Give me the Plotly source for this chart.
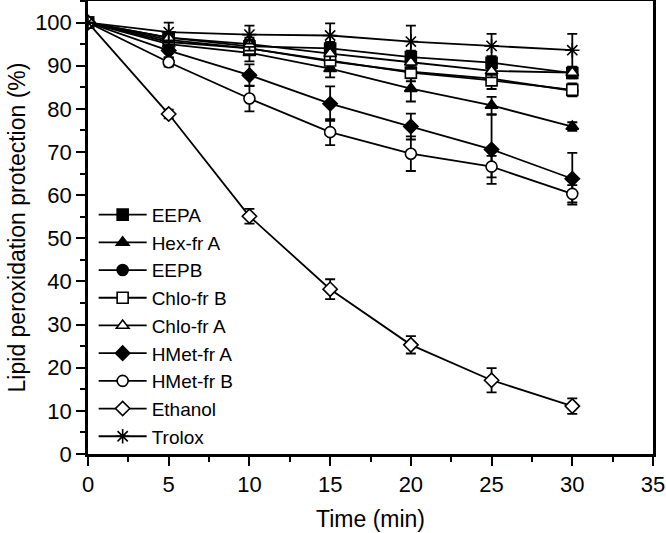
import plotly.graph_objects as go

time = [0, 5, 10, 15, 20, 25, 30]

names = ["EEPA", "Hex-fr A", "EEPB", "Chlo-fr B", "Chlo-fr A", "HMet-fr A", "HMet-fr B", "Ethanol", "Trolox"]

eepa = [100, 96.5, 94.5, 94.0, 92.0, 90.7, 88.3]
eepa_err = [0, 1.0, 1.5, 1.5, 1.5, 1.5, 1.2]
hex_a = [100, 95.0, 93.0, 89.3, 84.7, 80.8, 75.9]
hex_a_err = [0, 1.0, 2.0, 2.0, 3.0, 2.0, 1.0]
eepb = [100, 95.5, 94.0, 91.0, 88.6, 87.0, 84.2]
eepb_err = [0, 1.0, 1.5, 1.5, 1.5, 1.5, 1.2]
chlo_b = [100, 96.0, 94.0, 91.2, 88.4, 86.6, 84.4]
chlo_b_err = [0, 1.0, 1.5, 2.0, 2.0, 2.0, 1.5]
chlo_a = [100, 96.5, 95.0, 92.8, 90.8, 88.8, 88.4]
chlo_a_err = [0, 1.0, 1.5, 1.5, 1.5, 1.5, 1.2]
hmet_a = [100, 93.5, 87.8, 81.2, 75.9, 70.6, 63.8]
hmet_a_err = [0, 1.5, 2.5, 4.0, 3.0, 8.0, 6.0]
hmet_b = [100, 90.8, 82.4, 74.6, 69.6, 66.6, 60.3]
hmet_b_err = [0, 1.0, 3.0, 3.0, 4.0, 2.5, 2.0]
ethanol = [100, 78.8, 55.1, 38.2, 25.3, 17.1, 11.1]
ethanol_err = [0, 1.0, 1.7, 2.3, 2.0, 2.8, 1.8]
trolox = [100, 97.8, 97.2, 97.0, 95.6, 94.6, 93.6]
trolox_err = [0, 2.2, 2.1, 2.8, 3.7, 2.8, 3.8]

values = [eepa, hex_a, eepb, chlo_b, chlo_a, hmet_a, hmet_b, ethanol, trolox]
errors = [eepa_err, hex_a_err, eepb_err, chlo_b_err, chlo_a_err, hmet_a_err, hmet_b_err, ethanol_err, trolox_err]
symbols = ["square", "triangle-up", "circle", "square", "triangle-up", "diamond", "circle", "diamond", "asterisk-open"]
fills = ["black", "black", "black", "white", "white", "black", "white", "white", "black"]

fig = go.Figure()
for name, y, e, sym, fc in zip(names, values, errors, symbols, fills):
    size = 11 if sym != "asterisk-open" else 12
    fig.add_trace(go.Scatter(
        x=time, y=y, name=name, mode="lines+markers",
        line=dict(color="black", width=1.8),
        marker=dict(symbol=sym, size=size, color=fc, line=dict(color="black", width=1.6)),
        error_y=dict(type="data", array=e, visible=True, color="black", thickness=1.8, width=5),
    ))

font_family = "Liberation Sans, Arial, sans-serif"
fig.update_layout(
    width=666, height=533,
    paper_bgcolor="white", plot_bgcolor="white",
    margin=dict(l=88, r=13, t=1, b=79),
    font=dict(family=font_family, size=19, color="black"),
    showlegend=True,
    legend=dict(x=0.01, y=0.57, xanchor="left", yanchor="top",
                bgcolor="rgba(0,0,0,0)", font=dict(size=19), itemwidth=48,
                tracegroupgap=0),
)
fig.update_xaxes(
    range=[0, 35], dtick=5, tick0=0, automargin=False,
    showline=True, linecolor="black", linewidth=2.5, mirror=True,
    ticks="outside", ticklen=9, tickwidth=2, tickcolor="black",
    minor=dict(dtick=2.5, ticks="outside", ticklen=5, tickwidth=2, tickcolor="black"),
    showgrid=False, zeroline=False,
    title=dict(text="Time (min)", font=dict(size=23), standoff=15),
    tickfont=dict(size=22),
)
fig.update_yaxes(
    range=[0, 105], dtick=10, tick0=0, automargin=False,
    showline=True, linecolor="black", linewidth=2.5, mirror=True,
    ticks="outside", ticklen=9, tickwidth=2, tickcolor="black",
    minor=dict(dtick=5, ticks="outside", ticklen=5, tickwidth=2, tickcolor="black"),
    showgrid=False, zeroline=False,
    title=dict(text="Lipid peroxidation protection (%)", font=dict(size=23), standoff=4),
    tickfont=dict(size=22),
)

fig.write_html("out.html", config={"displayModeBar": False},
               post_script="document.body.style.margin='0';")
